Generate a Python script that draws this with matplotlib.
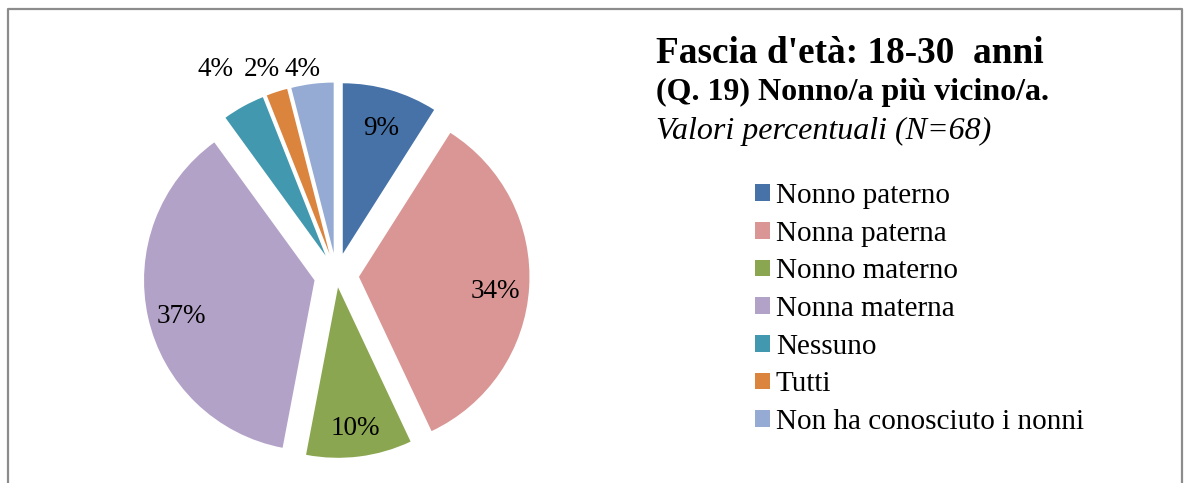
import numpy as np
import matplotlib
matplotlib.use("Agg")
import matplotlib.pyplot as plt
from matplotlib.patches import Patch

plt.rcParams["font.family"] = ["Liberation Serif", "DejaVu Serif"]

categories = ["Nonno paterno", "Nonna paterna", "Nonno materno", "Nonna materna",
              "Nessuno", "Tutti", "Non ha conosciuto i nonni"]
percentages = [9, 34, 10, 37, 4, 2, 4]
colors = ["#4672A8", "#D99694", "#8BA650", "#B3A2C8", "#4299AF", "#DB843E", "#95ABD3"]

title_line1 = "Fascia d'età: 18-30  anni"
title_line2 = "(Q. 19) Nonno/a più vicino/a."
title_line3 = "Valori percentuali (N=68)"

W, H = 1187, 483
fig = plt.figure(figsize=(W / 100, H / 100), dpi=100)
ax = fig.add_axes([0, 0, 1, 1])

# outer frame (open at the bottom)
frame_x = [7.5, 7.5, 1182, 1182]
frame_y = [-5, H - 9, H - 9, -5]
ax.plot(frame_x, frame_y, color="#8C8C8C", lw=1.6, clip_on=False)

cx, cy = 336.5, H - 275.4
R = 170.5
# radial offset of each slice from the centre (the "Nonno materno" slice sits closer)
gaps = [22.5, 22.5, 12, 22.5, 22.5, 22.5, 22.5]

wedges, _ = ax.pie(percentages, colors=colors, startangle=90, counterclock=False,
                   explode=gaps, radius=R, center=(cx, cy),
                   wedgeprops=dict(linewidth=0), frame=True)
ax.set_xlim(0, W)
ax.set_ylim(0, H)
ax.set_aspect("equal")
ax.axis("off")

label_fs = 19.5
top_row_y = H - 69
for w, p, g in zip(wedges, percentages, gaps):
    mid = np.deg2rad((w.theta1 + w.theta2) / 2)
    txt = f"{p}%"
    if p >= 5:
        r = 0.80 * R + g
        x, y = cx + r * np.cos(mid), cy + r * np.sin(mid) - 6
    else:
        y = top_row_y
        x = cx + (y - cy) / np.tan(mid) - 8
    ax.text(x, y, txt, ha="center", va="center", fontsize=label_fs, color="black")

# titles
ax.text(656, H - 63, title_line1, fontsize=26.8, fontweight="bold", ha="left", va="baseline")
ax.text(656, H - 100, title_line2, fontsize=23, fontweight="bold", ha="left", va="baseline")
ax.text(656, H - 139, title_line3, fontsize=23, fontstyle="italic", ha="left", va="baseline")

handles = [Patch(facecolor=c, edgecolor="none") for c in colors]
fs_leg = 21
fig.legend(handles, categories, loc="upper left",
           bbox_to_anchor=(755 / W, (H - 183) / H), frameon=False,
           fontsize=fs_leg, handlelength=0.51, handleheight=0.51,
           handletextpad=0.2, labelspacing=0.40, borderpad=0, borderaxespad=0)

fig.savefig("out.png", dpi=100)
